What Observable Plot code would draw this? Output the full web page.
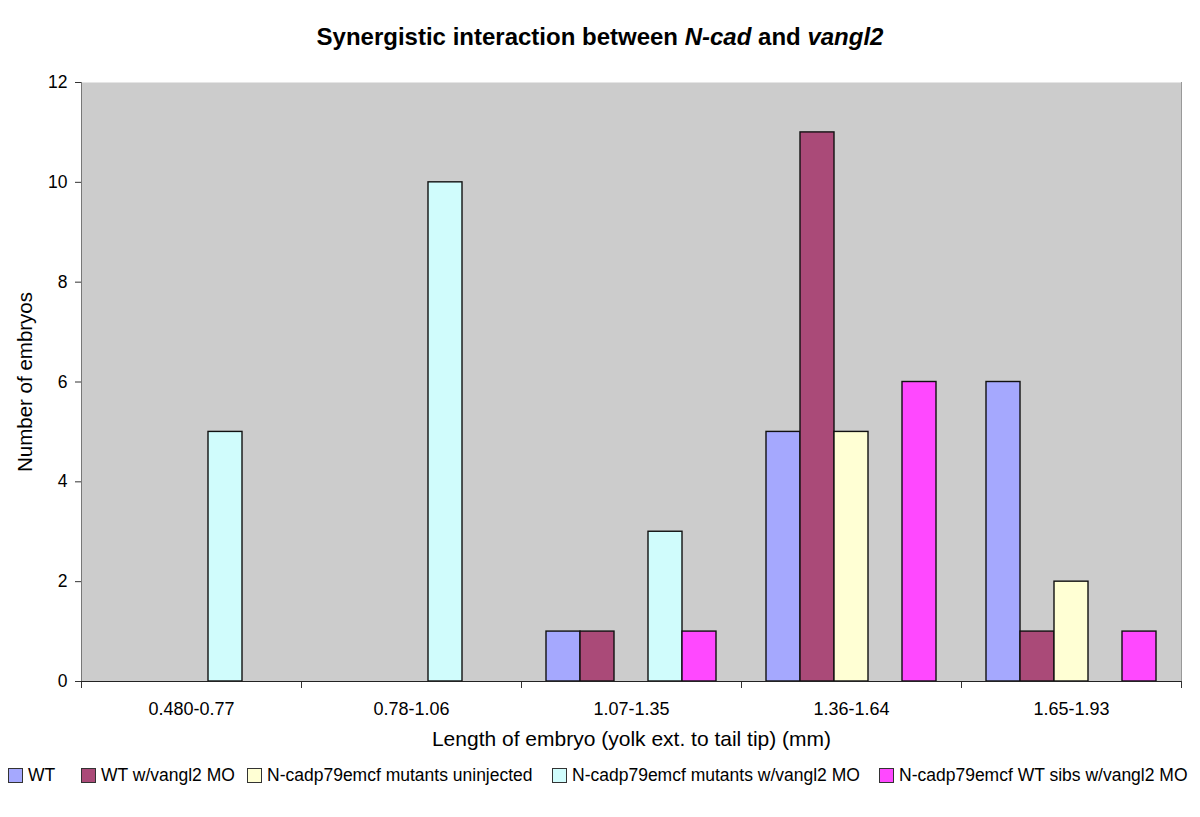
<!DOCTYPE html>
<html>
<head>
<meta charset="utf-8">
<script src="https://cdn.jsdelivr.net/npm/d3@7"></script>
<script src="https://cdn.jsdelivr.net/npm/@observablehq/plot@0.6"></script>
<style>
  body { margin: 0; background: white; font-family: "Liberation Sans", Arial, sans-serif; }
  #title { height: 60px; box-sizing: border-box; padding-top: 24px; font-weight: bold; font-size: 24px; line-height: 26px; text-align: center; color: #000; }
  #legend { position: relative; margin-top: 8px; height: 22px; font-size: 17.5px; color: #000; }
  .item { position: absolute; top: 0; height: 22px; display: flex; align-items: center; white-space: nowrap; }
  .sw { width: 13px; height: 13px; border: 1px solid #333; margin-right: 5px; }
</style>
</head>
<body>
<div id="title">Synergistic interaction between <i>N-cad</i> and <i>vangl2</i></div>
<div id="chart"></div>
<div id="legend"></div>
<script>
const categories = ["0.480-0.77", "0.78-1.06", "1.07-1.35", "1.36-1.64", "1.65-1.93"];
const seriesNames = [
  "WT",
  "WT w/vangl2 MO",
  "N-cadp79emcf mutants uninjected",
  "N-cadp79emcf mutants w/vangl2 MO",
  "N-cadp79emcf WT sibs w/vangl2 MO"
];
const wt          = [0, 0, 1, 5, 6];
const wtMO        = [0, 0, 1, 11, 1];
const mutUninj    = [0, 0, 0, 5, 2];
const mutMO       = [5, 10, 3, 0, 0];
const sibsMO      = [0, 0, 1, 6, 1];
const yTicks = [0, 2, 4, 6, 8, 10, 12];
const colors = ["#a5a8fe", "#aa4a78", "#ffffd4", "#d0fcfc", "#ff48ff"];
const legendLeft = [8, 81, 247, 552, 879];

const seriesValues = [wt, wtMO, mutUninj, mutMO, sibsMO];
const data = [];
categories.forEach((c, i) => {
  seriesNames.forEach((s, j) => {
    data.push({cat: c, series: s, value: seriesValues[j][i]});
  });
});

const H = 696, MT = 22, MB = 75;
const plot = Plot.plot({
  width: 1200,
  height: H,
  marginTop: MT,
  marginBottom: MB,
  marginLeft: 80,
  marginRight: 18,
  style: {fontFamily: "'Liberation Sans', Arial, sans-serif", background: "white", color: "#000"},
  fx: {domain: categories, padding: 0, axis: null},
  x: {domain: seriesNames, paddingInner: 0, paddingOuter: 0.735, axis: null},
  y: {domain: [0, 12]},
  color: {domain: seriesNames, range: colors},
  marks: [
    Plot.frame({fill: "#cccccc", stroke: null, facet: "super"}),
    Plot.frame({anchor: "left", stroke: "#777", facet: "super"}),
    Plot.frame({anchor: "right", stroke: "#999", facet: "super"}),
    Plot.frame({anchor: "left", stroke: "#333", insetTop: H - MT - MB, insetBottom: -6}),
    Plot.frame({anchor: "right", stroke: "#333", insetTop: H - MT - MB, insetBottom: -6, facet: "super"}),
    Plot.barY(data.filter(d => d.value > 0), {
      fx: "cat", x: "series", y: "value", fill: "series",
      stroke: "#111", strokeWidth: 1.4
    }),
    Plot.ruleY([0], {stroke: "#222", strokeWidth: 1.2}),
    Plot.axisY({ticks: yTicks, tickSize: 6, tickPadding: 8, fontSize: 17.5, label: null, stroke: "#333"}),
    Plot.axisY({ticks: [], tickSize: 0, label: "Number of embryos", labelAnchor: "center", labelArrow: "none", labelOffset: 64, fontSize: 20.5}),
    Plot.axisFx({anchor: "bottom", tickSize: 0, tickPadding: 21, fontSize: 18, label: null}),
    Plot.axisFx({anchor: "bottom", ticks: [], tickSize: 0, label: "Length of embryo (yolk ext. to tail tip) (mm)", labelAnchor: "center", labelOffset: 64, fontSize: 21})
  ]
});
document.getElementById("chart").appendChild(plot);

const legend = document.getElementById("legend");
seriesNames.forEach((s, i) => {
  const item = document.createElement("div");
  item.className = "item";
  item.style.left = legendLeft[i] + "px";
  const sw = document.createElement("span");
  sw.className = "sw";
  sw.style.background = colors[i];
  const t = document.createElement("span");
  t.textContent = s;
  item.appendChild(sw);
  item.appendChild(t);
  legend.appendChild(item);
});
</script>
</body>
</html>
